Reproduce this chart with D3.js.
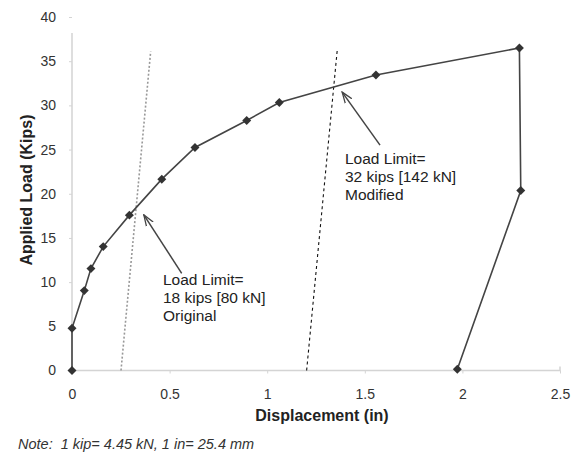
<!DOCTYPE html>
<html>
<head>
<meta charset="utf-8">
<script src="https://cdn.jsdelivr.net/npm/d3@7"></script>
<style>
  body { margin: 0; background: #fff; }
  svg { font-family: "Liberation Sans", Arial, sans-serif; }
</style>
</head>
<body>
<script>
// load-displacement test data (inches, kips)
let displacement = [0, 0, 0.063, 0.097, 0.160, 0.294, 0.460, 0.630, 0.895, 1.062, 1.557, 2.292, 2.299, 1.974];
let load = [0, 4.78, 9.04, 11.53, 14.02, 17.58, 21.65, 25.23, 28.29, 30.33, 33.43, 36.49, 20.36, 0.14];
let xTicks = [0, 0.5, 1, 1.5, 2, 2.5];
let yTicks = [0, 5, 10, 15, 20, 25, 30, 35, 40];
// limit lines: [x0, y0, x1, y1]
let originalLimit = [0.251, 0, 0.403, 36.1];
let modifiedLimit = [1.202, 0, 1.359, 36.3];
// arrows: tail -> head
let arrows = [[0.562, 11.0, 0.368, 17.6], [1.578, 25.5, 1.384, 31.5]];
let labelOriginal = ["Load Limit=", "18 kips [80 kN]", "Original"];
let labelModified = ["Load Limit=", "32 kips [142 kN]", "Modified"];

let svg = d3.select("body").append("svg").attr("width", 576).attr("height", 455);

let x = d3.scaleLinear().domain([0, 2.5]).range([72, 560]);
let y = d3.scaleLinear().domain([0, 40]).range([370.5, 17]);

let xAxis = svg.append("g").attr("transform", "translate(0," + y(0) + ")")
    .call(d3.axisBottom(x).tickValues(xTicks).tickSize(3).tickPadding(16).tickFormat(d3.format("")));
let yAxis = svg.append("g").attr("transform", "translate(" + x(0) + ",0)")
    .call(d3.axisLeft(y).tickValues(yTicks).tickSize(3).tickPadding(13));
[xAxis, yAxis].forEach(function(a) {
    a.select(".domain").attr("stroke", "#d4d4d4").attr("stroke-width", 1.5);
    a.selectAll(".tick line").attr("stroke", "#d4d4d4");
    a.selectAll(".tick text").attr("fill", "#333").attr("font-size", 14);
});
// y axis line is shorter at the top in the original
yAxis.select(".domain").attr("d", "M-3," + y(0) + "H0V" + y(38.2));
xAxis.select(".domain").attr("d", "M" + x(0) + ",0H" + x(2.5) + "V-4");

svg.append("text").attr("x", 322).attr("y", 421).attr("text-anchor", "middle")
    .attr("font-weight", "bold").attr("font-size", 16).attr("fill", "#222").text("Displacement (in)");
svg.append("text").attr("transform", "translate(32,190) rotate(-90)").attr("text-anchor", "middle")
    .attr("font-weight", "bold").attr("font-size", 16).attr("fill", "#222").text("Applied Load (Kips)");
svg.append("text").attr("x", 18).attr("y", 449).attr("font-style", "italic")
    .attr("font-size", 14.5).attr("fill", "#333").attr("xml:space", "preserve").text("Note:  1 kip= 4.45 kN, 1 in= 25.4 mm");

// limit lines
svg.append("line").attr("x1", x(originalLimit[0])).attr("y1", y(originalLimit[1]))
    .attr("x2", x(originalLimit[2])).attr("y2", y(originalLimit[3]))
    .attr("stroke", "#999").attr("stroke-width", 1.6).attr("stroke-dasharray", "2,2");
svg.append("line").attr("x1", x(modifiedLimit[0])).attr("y1", y(modifiedLimit[1]))
    .attr("x2", x(modifiedLimit[2])).attr("y2", y(modifiedLimit[3]))
    .attr("stroke", "#111").attr("stroke-width", 1.1).attr("stroke-dasharray", "3,3");

// curve
let pts = displacement.map(function(d, i) { return [d, load[i]]; });
svg.append("path").datum(pts)
    .attr("d", d3.line().x(function(d) { return x(d[0]); }).y(function(d) { return y(d[1]); }))
    .attr("fill", "none").attr("stroke", "#444").attr("stroke-width", 1.6);
svg.selectAll("path.pt").data(pts).enter().append("path").attr("class", "pt")
    .attr("d", d3.symbol().type(d3.symbolSquare).size(40))
    .attr("transform", function(d) { return "translate(" + x(d[0]) + "," + y(d[1]) + ") rotate(45)"; })
    .attr("fill", "#333");

// arrows
svg.append("defs").append("marker").attr("id", "head").attr("viewBox", "0 0 12 10")
    .attr("refX", 11).attr("refY", 5).attr("markerWidth", 12).attr("markerHeight", 10)
    .attr("markerUnits", "userSpaceOnUse").attr("orient", "auto")
    .append("path").attr("d", "M0,1 L11,5 L0,9").attr("fill", "none").attr("stroke", "#444").attr("stroke-width", 1.3);
svg.selectAll("line.arrow").data(arrows).enter().append("line").attr("class", "arrow")
    .attr("x1", function(d) { return x(d[0]); }).attr("y1", function(d) { return y(d[1]); })
    .attr("x2", function(d) { return x(d[2]); }).attr("y2", function(d) { return y(d[3]); })
    .attr("stroke", "#444").attr("stroke-width", 1.5).attr("marker-end", "url(#head)");

// labels
svg.selectAll("text.lo").data(labelOriginal).enter().append("text").attr("class", "lo")
    .attr("x", 163).attr("y", function(d, i) { return 285 + i * 18; })
    .attr("font-size", 15.5).attr("fill", "#222").text(function(d) { return d; });
svg.selectAll("text.lm").data(labelModified).enter().append("text").attr("class", "lm")
    .attr("x", 345).attr("y", function(d, i) { return 164 + i * 18; })
    .attr("font-size", 15.5).attr("fill", "#222").text(function(d) { return d; });
</script>
</body>
</html>
